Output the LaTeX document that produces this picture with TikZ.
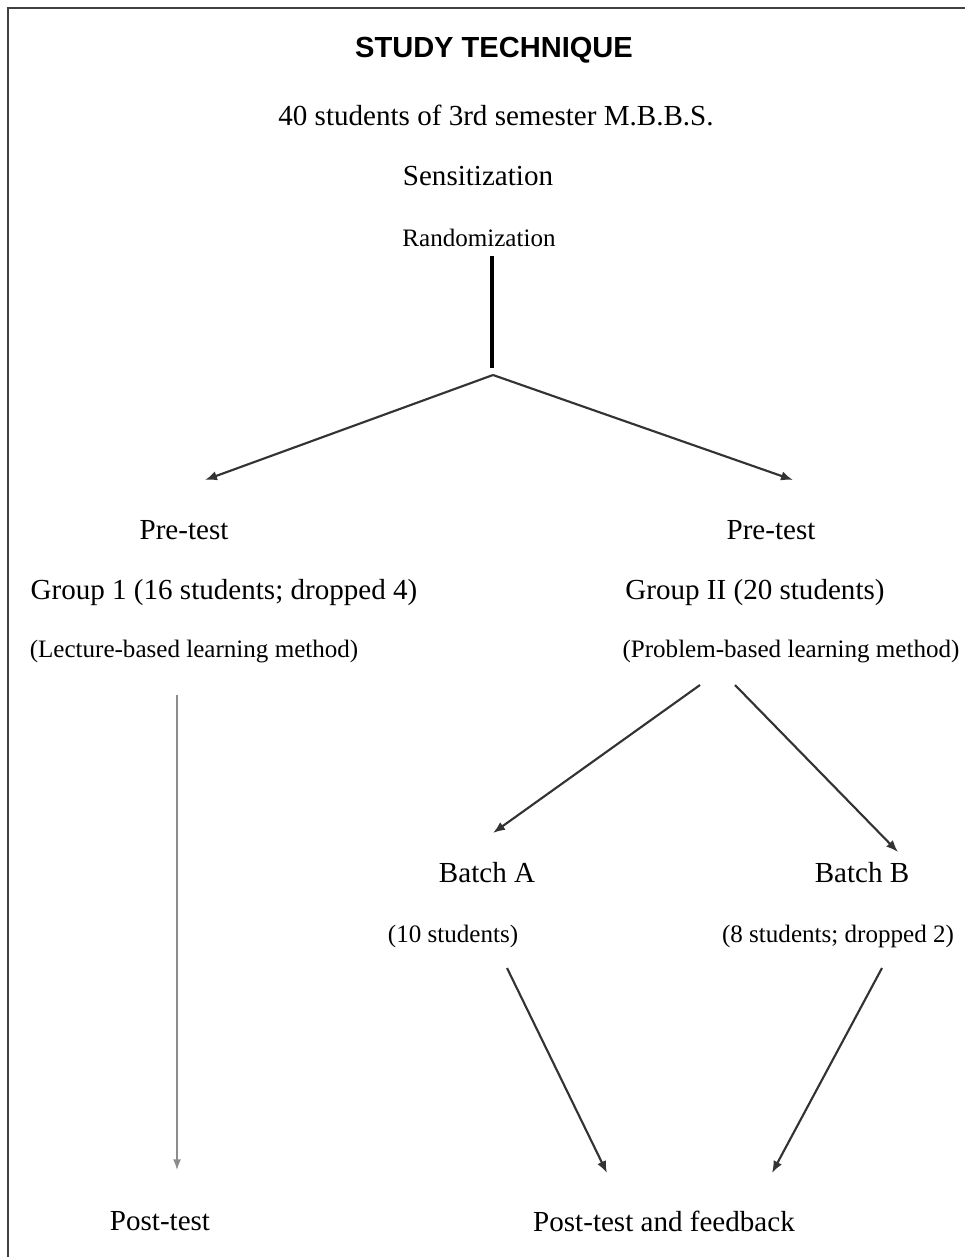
\documentclass[tikz,border=0pt]{standalone}
\usepackage{fontspec}
\setmainfont{Liberation Serif}
\newfontfamily\titlefont{Liberation Sans}
\usetikzlibrary{arrows.meta,positioning}

\begin{document}
\begin{tikzpicture}[
    x=0.75pt, y=-0.75pt,
    big/.style={inner sep=0pt, font=\fontsize{21.8}{24}\selectfont},
    small/.style={inner sep=0pt, font=\fontsize{18.8}{21}\selectfont},
    arrow/.style={-{Latex[length=9pt,width=7pt]}, line width=1.6pt, draw=black!80},
    greyarrow/.style={-{Latex[length=8pt,width=6pt]}, line width=1.1pt, draw=black!45}
]
\useasboundingbox (0,0) rectangle (965,1257);
% frame, only top and left edges are visible
\draw[line width=1.2pt, black!75] (8,1257) -- (8,8) -- (965,8);

\node[inner sep=0pt, font=\titlefont\bfseries\fontsize{21.8}{24}\selectfont] (title) at (494,50) {STUDY TECHNIQUE};
\node[big] (total) at (496,115) {40 students of 3rd semester M.B.B.S.};
\node[big] (sens) at (478,176) {Sensitization};
\node[small] (rand) at (479,238) {Randomization};

\node[big] (pre1) at (184,530) {Pre-test};
\node[big] (pre2) at (771,530) {Pre-test};
\node[big] (grp1) at (224,593) {Group 1 (16 students; dropped 4)};
\node[big] (grp2) at (755,593) {Group II (20 students)};
\node[small] (meth1) at (194,651) {(Lecture-based learning method)};
\node[small] (meth2) at (791,651) {(Problem-based learning method)};

\node[big] (batA) at (487,873) {Batch A};
\node[big] (batB) at (862,873) {Batch B};
\node[small] (numA) at (453,936) {(10 students)};
\node[small] (numB) at (838,936) {(8 students; dropped 2)};

\node[big] (post1) at (160,1221) {Post-test};
\node[big] (post2) at (664,1221) {Post-test and feedback};

% free ends of the connectors
\coordinate (stem) at (492,256);
\coordinate (stemEnd) at (492,368);
\coordinate (fork) at (493,375);
\coordinate (forkL) at (205,480);
\coordinate (forkR) at (793,480);
\coordinate (splitL) at (700,685);
\coordinate (splitR) at (735,685);
\coordinate (tipA) at (493,833);
\coordinate (tipB) at (898,852);
\coordinate (fromA) at (507,968);
\coordinate (fromB) at (882,968);
\coordinate (joinA) at (607,1173);
\coordinate (joinB) at (772,1173);
\coordinate (lecTop) at (177,695);
\coordinate (lecEnd) at (177,1170);

\draw[line width=2.4pt] (stem) -- (stemEnd);
\draw[arrow] (fork) -- (forkL);
\draw[arrow] (fork) -- (forkR);
\draw[arrow] (splitL) -- (tipA);
\draw[arrow] (splitR) -- (tipB);
\draw[arrow] (fromA) -- (joinA);
\draw[arrow] (fromB) -- (joinB);
\draw[greyarrow] (lecTop) -- (lecEnd);
\end{tikzpicture}
\end{document}
